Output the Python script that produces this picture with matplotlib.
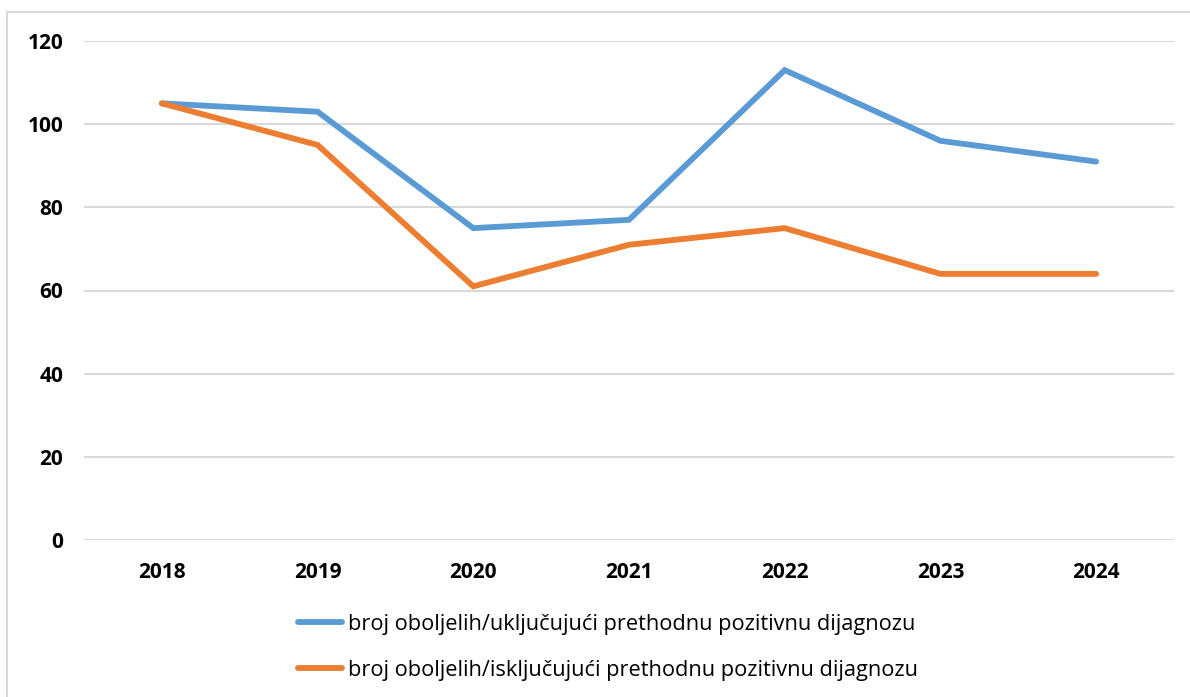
import matplotlib.pyplot as plt
from matplotlib.patches import Rectangle

# data
years = ['2018', '2019', '2020', '2021', '2022', '2023', '2024']
ukljucujuci = [105, 103, 75, 77, 113, 96, 91]
iskljucujuci = [105, 95, 61, 71, 75, 64, 64]
labels = ['broj oboljelih/uključujući prethodnu pozitivnu dijagnozu',
          'broj oboljelih/isključujući prethodnu pozitivnu dijagnozu']
y_ticks = [0, 20, 40, 60, 80, 100, 120]

plt.rcParams['font.family'] = ['Open Sans', 'DejaVu Sans']

W, H = 1190, 697
fig = plt.figure(figsize=(W / 100, H / 100), dpi=100)
ax = fig.add_axes([84 / W, 1 - 540 / H, (1174 - 84) / W, (540 - 41) / H])

# outer chart border (cropped at right and bottom in the reference)
fig.patches.append(Rectangle((7 / W, -0.05), 1.2, 1 - 12 / H + 0.05,
                             transform=fig.transFigure, fill=False,
                             edgecolor='#D9D9D9', lw=1.5))

x = range(len(years))
ax.plot(x, ukljucujuci, color='#5B9BD5', lw=4.2, solid_capstyle='round',
        solid_joinstyle='miter', label=labels[0], zorder=3)
ax.plot(x, iskljucujuci, color='#ED7D31', lw=4.2, solid_capstyle='round',
        solid_joinstyle='miter', label=labels[1], zorder=3)

ax.set_xlim(-0.5, len(years) - 0.5)
ax.set_ylim(0, 120)
ax.set_yticks(y_ticks)
ax.set_xticks(list(x))
ax.set_xticklabels(years)
ax.grid(axis='y', color='#D9D9D9', lw=1.5)
ax.set_axisbelow(True)
for s in ax.spines.values():
    s.set_visible(False)
ax.tick_params(length=0, labelsize=15)
ax.tick_params(axis='y', pad=15)
ax.tick_params(axis='x', pad=16)
for t in ax.get_xticklabels() + ax.get_yticklabels():
    t.set_fontweight('bold')

leg = fig.legend(loc='upper center', bbox_to_anchor=(608 / W, 1 - 594 / H),
                 ncol=1, frameon=False, handlelength=2.0,
                 handletextpad=0.25, labelspacing=1.15,
                 prop={'size': 15.7})
for l in leg.get_lines():
    l.set_linewidth(4.2)

fig.savefig('out.png', dpi=100)
